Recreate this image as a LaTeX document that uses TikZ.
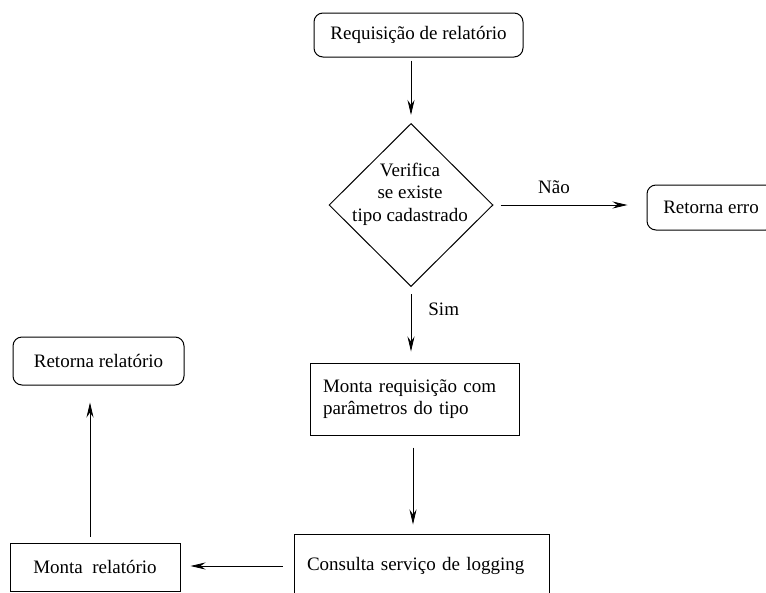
\documentclass[tikz,border=0pt]{standalone}
\usepackage{fontspec}
\setmainfont{Liberation Serif}
\usetikzlibrary{shapes.geometric,arrows.meta}
\begin{document}
\begin{tikzpicture}[x=1pt,y=-1pt,
  font=\fontsize{19}{22.5}\selectfont,
  term/.style={draw, line width=1pt, rounded corners=9pt, inner sep=0pt},
  proc/.style={draw, line width=1pt, inner sep=0pt},
  decision/.style={draw, diamond, line width=1pt, inner sep=0pt},
  arr/.style={line width=0.8pt, -{Stealth[length=15pt,width=7pt,inset=5pt]}},
  lbl/.style={inner sep=0pt}]
\useasboundingbox (0,0) rectangle (766,592);
\clip (0,0) rectangle (766,592);

% start and end terminals
\node[term, minimum width=209pt, minimum height=44pt] (req) at (418.5,35) {Requisição de relatório};
\node[term, minimum width=128pt, minimum height=45pt] (erro) at (711,207.5) {Retorna erro};
\node[term, minimum width=171pt, minimum height=48pt] (rrel) at (98.5,361) {Retorna relatório};

% decision
\node[decision, minimum width=164pt, minimum height=163pt] (chk) at (411,205) {};
\node[lbl, align=center] (chktxt) at (410,194) {Verifica\\se existe\\tipo cadastrado};

% processing steps
\node[proc, minimum width=209pt, minimum height=72pt, text width=183pt, align=left] (mreq) at (414.5,399)
  {Monta requisição com\\parâmetros do tipo};
\node[proc, minimum width=255pt, minimum height=64pt, text width=229pt, align=left] (cons) at (421.5,566)
  {Consulta serviço de logging};
\node[proc, minimum width=170pt, minimum height=48pt] (mrel) at (95,567) {Monta\hspace{0.5em}relatório};

% connectors
\draw[arr, shorten <=3pt, shorten >=8pt] (req.south -| chk.north) -- (chk.north);
\draw[arr, shorten <=7pt, shorten >=19pt] (chk.east) -- (chk.east -| erro.west)
  node[lbl, midway, above=11pt, xshift=-16pt] (nao) {Não};
\draw[arr, shorten <=7pt, shorten >=11pt] (chk.south) -- (chk.south |- mreq.north)
  node[lbl, pos=0.3, right=17pt] (sim) {Sim};
\draw[arr, shorten <=12pt, shorten >=9pt] ([xshift=-1.5pt]mreq.south) -- ([xshift=-1.5pt]mreq.south |- cons.north);
\draw[arr, shorten <=11pt, shorten >=10pt] (cons.west) -- (cons.west -| mrel.east);
\draw[arr, shorten <=6pt, shorten >=17pt] ([xshift=-5pt]mrel.north) -- ([xshift=-5pt]mrel.north |- rrel.south);
\end{tikzpicture}
\end{document}
